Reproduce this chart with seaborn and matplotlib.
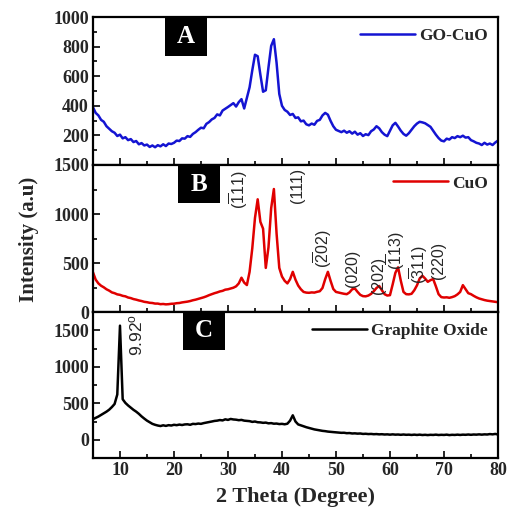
import numpy as np
import pandas as pd
import matplotlib
matplotlib.use("Agg")
import matplotlib.pyplot as plt
from matplotlib.ticker import MultipleLocator
from matplotlib.patches import Rectangle
import seaborn as sns

# 2 theta sampling positions (degrees)
two_theta = np.arange(5, 80.5, 0.5)

# GO-CuO intensity
go_cuo = [
    390, 352, 335, 305, 292, 262, 245, 228, 218, 196,
    205, 180, 188, 168, 175, 155, 162, 140, 148, 132,
    138, 122, 132, 120, 134, 126, 140, 128, 145, 142,
    150, 165, 162, 180, 178, 195, 190, 210, 222, 238,
    252, 248, 278, 290, 308, 318, 342, 335, 368, 380,
    392, 405, 418, 395, 425, 445, 382, 455, 525, 640,
    745, 735, 610, 495, 505, 660, 805, 850, 690, 480,
    400, 372, 360, 338, 345, 318, 322, 295, 300, 275,
    268, 280, 272, 298, 305, 335, 352, 340, 298, 262,
    238, 230, 222, 232, 218, 228, 212, 225, 205, 215,
    196, 208, 202, 228, 240, 262, 248, 222, 205, 195,
    232, 268, 285, 260, 232, 210, 198, 215, 238, 262,
    280, 292, 288, 282, 270, 258, 232, 205, 182, 165,
    160, 178, 172, 188, 182, 195, 188, 198, 185, 188,
    168, 160, 150, 145, 135, 150, 138, 145, 135, 152,
    165,
]

# CuO intensity, panel B
cuo = [
    405, 330, 292, 268, 252, 232, 218, 200, 192, 180,
    175, 165, 160, 148, 142, 132, 126, 118, 112, 104,
    100, 94, 92, 86, 86, 80, 82, 78, 80, 84,
    85, 90, 92, 98, 102, 106, 112, 120, 126, 134,
    142, 150, 160, 172, 182, 192, 200, 210, 216, 228,
    232, 240, 248, 262, 292, 350, 300, 275, 410, 650,
    960, 1150, 920, 850, 450, 660, 1060, 1255, 800, 450,
    362, 318, 292, 335, 410, 330, 270, 232, 205, 198,
    196, 200, 198, 206, 212, 245, 335, 410, 318, 235,
    205, 198, 192, 186, 182, 200, 232, 240, 205, 175,
    162, 160, 168, 185, 212, 245, 266, 222, 182, 168,
    172, 282, 400, 456, 320, 205, 182, 180, 186, 222,
    272, 342, 370, 342, 308, 325, 336, 262, 182, 152,
    148, 150, 145, 152, 162, 180, 205, 274, 232, 192,
    182, 165, 150, 138, 130, 122, 116, 112, 108, 104,
    100,
]

# Graphite oxide intensity, panel C
graphite_oxide = [
    282, 300, 318, 340, 362, 385, 412, 448, 490, 620,
    1563, 555, 505, 470, 440, 410, 385, 355, 320, 290,
    262, 240, 218, 205, 195, 188, 198, 190, 200, 195,
    205, 200, 208, 202, 210, 212, 205, 218, 215, 222,
    218, 228, 235, 242, 250, 258, 262, 270, 265, 280,
    272, 285, 278, 275, 268, 272, 262, 258, 255, 245,
    250, 240, 238, 232, 235, 225, 228, 220, 222, 215,
    218, 212, 220, 262, 335, 250, 210, 198, 185, 172,
    162, 152, 142, 135, 128, 122, 118, 112, 108, 105,
    102, 98, 95, 96, 90, 92, 86, 88, 84, 86,
    80, 82, 78, 80, 76, 78, 74, 76, 72, 74,
    70, 74, 70, 72, 68, 72, 68, 70, 66, 70,
    66, 70, 65, 68, 64, 68, 66, 70, 65, 68,
    66, 70, 64, 68, 66, 70, 66, 70, 68, 72,
    68, 72, 70, 74, 70, 74, 72, 78, 74, 80,
    72,
]

# Miller index labels for CuO peaks
hkl_labels = [r"$(\overline{1}11)$", "(111)", r"$(\overline{2}02)$", "(020)", "(202)",
              r"$(\overline{1}13)$", r"$(\overline{3}11)$", "(220)"]
hkl_x = [31.9, 42.8, 47.6, 53.1, 57.8, 61.1, 65.2, 68.9]
hkl_y = [1244, 1295, 648, 442, 370, 627, 483, 524]

sns.set_theme(style="ticks")
plt.rcParams['font.family'] = ['Liberation Serif', 'DejaVu Serif']
plt.rcParams['font.weight'] = 'bold'
plt.rcParams['axes.labelweight'] = 'bold'
plt.rcParams['mathtext.fontset'] = 'custom'
plt.rcParams['mathtext.rm'] = 'Liberation Sans:weight=normal'
plt.rcParams['mathtext.it'] = 'Liberation Sans:weight=normal'
plt.rcParams['mathtext.bf'] = 'Liberation Sans:weight=normal'

fig = plt.figure(figsize=(5.07, 5.08), dpi=100)
left, width = 0.1834, 0.7988
axA = fig.add_axes([left, 0.6752, width, 0.2913])
axB = fig.add_axes([left, 0.3858, width, 0.2894])
axC = fig.add_axes([left, 0.0984, width, 0.2874])

panels = [
    (axA, go_cuo, "#1414d2", "GO-CuO", (0, 1000), [200, 400, 600, 800, 1000], 100, "A", (0.178, 0.735)),
    (axB, cuo, "#e00000", "CuO", (0, 1500), [0, 500, 1000, 1500], 250, "B", (0.210, 0.74)),
    (axC, graphite_oxide, "black", "Graphite Oxide", (-250, 1750), [0, 500, 1000, 1500], 250, "C", (0.222, 0.74)),
]

for ax, vals, col, name, ylim, yt, yminor, letter, boxpos in panels:
    df = pd.DataFrame({"two_theta": two_theta, "intensity": vals})
    sns.lineplot(data=df, x="two_theta", y="intensity", ax=ax, color=col,
                 lw=1.8, label=name)
    ax.set_xlim(5, 80)
    ax.set_ylim(*ylim)
    ax.set_yticks(yt)
    ax.yaxis.set_minor_locator(MultipleLocator(yminor))
    ax.xaxis.set_major_locator(MultipleLocator(10))
    ax.xaxis.set_minor_locator(MultipleLocator(5))
    ax.tick_params(which='both', direction='in', top=False, right=False, width=1.4)
    ax.tick_params(which='major', length=5, labelsize=13, pad=3)
    ax.tick_params(which='minor', length=3)
    for sp in ax.spines.values():
        sp.set_linewidth(1.6)
        sp.set_color('black')
    ax.set_xlabel("")
    ax.set_ylabel("")
    ax.legend(loc="upper right", frameon=False, handlelength=3.2, handletextpad=0.2,
              borderaxespad=0.2, prop={'weight': 'bold', 'size': 12.5,
                                       'family': 'Liberation Serif'})
    # black letter box
    ax.add_patch(Rectangle(boxpos, 0.104, 0.26, transform=ax.transAxes,
                           facecolor='black', edgecolor='none', zorder=5, clip_on=False))
    ax.text(boxpos[0] + 0.052, boxpos[1] + 0.13, letter, transform=ax.transAxes,
            color='white', fontsize=18, fontweight='bold', ha='center', va='center', zorder=6)

axA.tick_params(labelbottom=False)
axB.tick_params(labelbottom=False)

for lab, x, y in zip(hkl_labels, hkl_x, hkl_y):
    axB.text(x, y, lab, rotation=90, ha='center', va='center', fontsize=11.5,
             fontweight='normal', family='Liberation Sans')

axC.text(13.0, 1430, r"9.92$^{\rm o}$", rotation=90, ha='center', va='center',
         fontsize=12.5, fontweight='normal', family='Liberation Sans')

fig.text(0.058, 0.528, "Intensity (a.u)", rotation=90, ha='center', va='center',
         fontsize=15, fontweight='bold')
fig.text(0.582, 0.022, "2 Theta (Degree)", ha='center', va='center',
         fontsize=16, fontweight='bold')

fig.savefig("out.png", dpi=100)
